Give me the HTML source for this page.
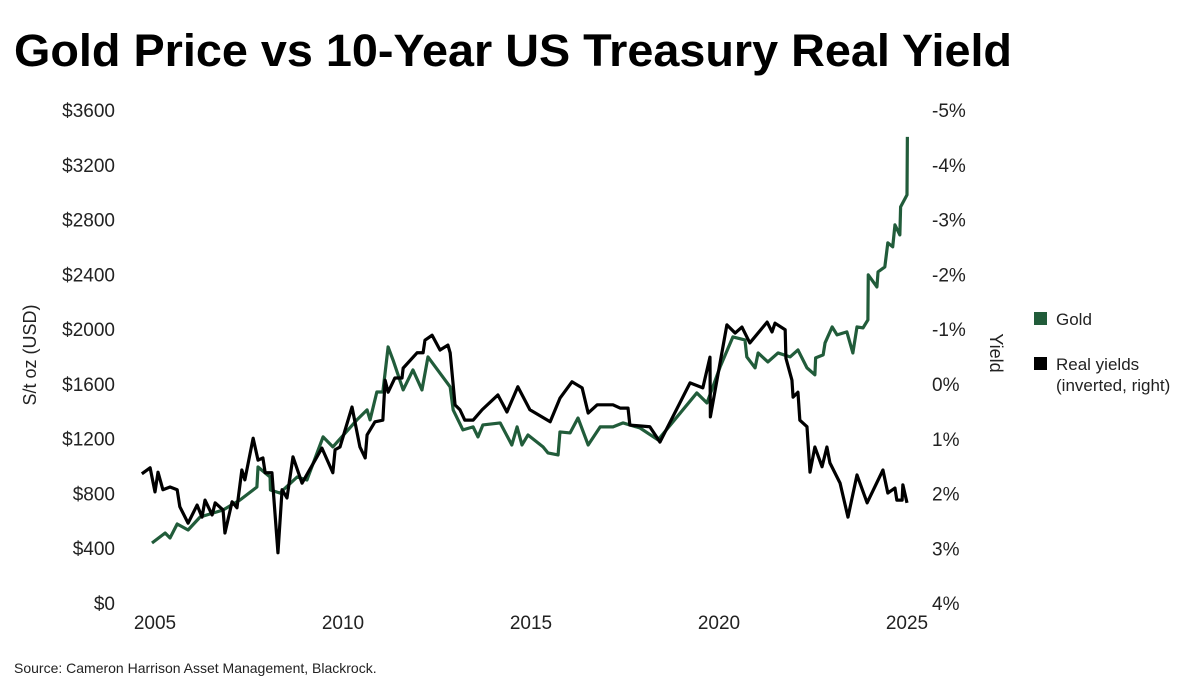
<!DOCTYPE html>
<html><head><meta charset="utf-8"><style>
body{margin:0;background:#fff;width:1194px;height:687px;overflow:hidden;font-family:"Liberation Sans",sans-serif}
</style></head><body>
<svg width="1194" height="687" viewBox="0 0 1194 687">
<text x="14" y="66" font-size="45" font-weight="bold" fill="#000" textLength="998" lengthAdjust="spacingAndGlyphs">Gold Price vs 10-Year US Treasury Real Yield</text>
<g id="leftAxis"></g>
<g id="rightAxis"></g>
<g id="xAxis"></g>
<text transform="translate(36,355) rotate(-90)" text-anchor="middle" font-size="18" fill="#222">S/t oz (USD)</text>
<text transform="translate(990,353) rotate(90)" text-anchor="middle" font-size="18" fill="#222">Yield</text>
<g id="series"></g>
<g>
<rect x="1034" y="312" width="13" height="13" fill="#215c3a"/>
<text x="1056" y="325" font-size="17" fill="#222">Gold</text>
<rect x="1034" y="357" width="13" height="13" fill="#000"/>
<text x="1056" y="370" font-size="17" fill="#222">Real yields</text>
<text x="1056" y="391" font-size="17" fill="#222">(inverted, right)</text>
</g>
<text x="14" y="673" font-size="14" fill="#222">Source: Cameron Harrison Asset Management, Blackrock.</text>
</svg>
<script>
const leftTicks=[0,400,800,1200,1600,2000,2400,2800,3200,3600];
const rightTicks=[-5,-4,-3,-2,-1,0,1,2,3,4];
const rightTickLabels=["-5%","-4%","-3%","-2%","-1%","0%","1%","2%","3%","4%"];
const xTicks=[2005,2010,2015,2020,2025];
const goldYears=[2004.92,2005.27,2005.40,2005.59,2005.88,2006.20,2006.81,2007.26,2007.71,2007.74,2008.06,2008.07,2008.32,2008.78,2009.04,2009.47,2009.73,2010.37,2010.64,2010.72,2010.90,2011.06,2011.20,2011.33,2011.60,2011.86,2012.10,2012.26,2012.85,2012.93,2013.19,2013.46,2013.59,2013.72,2014.18,2014.49,2014.63,2014.76,2014.92,2015.32,2015.45,2015.72,2015.77,2016.04,2016.25,2016.52,2016.84,2017.18,2017.45,2017.90,2018.38,2019.41,2019.68,2020.03,2020.37,2020.69,2020.74,2020.96,2021.04,2021.30,2021.57,2021.89,2022.10,2022.34,2022.55,2022.57,2022.77,2022.82,2023.01,2023.14,2023.40,2023.56,2023.67,2023.83,2023.96,2023.97,2024.20,2024.23,2024.41,2024.49,2024.62,2024.68,2024.81,2024.83,2025.00,2025.01];
const goldPrices=[438,511,475,577,533,628,679,752,847,993,920,825,803,920,898,1213,1140,1337,1410,1337,1541,1541,1870,1775,1556,1702,1556,1797,1578,1410,1264,1286,1213,1300,1315,1154,1286,1154,1227,1140,1096,1081,1249,1242,1351,1154,1286,1286,1315,1278,1191,1534,1461,1724,1943,1921,1797,1717,1826,1760,1826,1797,1848,1717,1666,1790,1812,1899,2016,1958,1980,1826,2016,2009,2067,2396,2308,2418,2454,2630,2601,2761,2688,2893,2980,3404];
const yieldYears=[2004.65,2004.87,2005.00,2005.08,2005.21,2005.40,2005.59,2005.66,2005.88,2006.12,2006.25,2006.33,2006.52,2006.60,2006.81,2006.86,2007.05,2007.18,2007.31,2007.39,2007.61,2007.74,2007.87,2007.93,2008.11,2008.27,2008.38,2008.51,2008.67,2008.91,2009.44,2009.73,2009.79,2009.92,2010.24,2010.45,2010.59,2010.64,2010.85,2011.06,2011.12,2011.20,2011.38,2011.57,2011.60,2011.97,2012.13,2012.18,2012.37,2012.58,2012.79,2012.85,2012.98,2013.11,2013.24,2013.46,2013.70,2014.12,2014.36,2014.65,2014.97,2015.51,2015.77,2016.09,2016.36,2016.52,2016.76,2017.18,2017.37,2017.58,2017.63,2018.16,2018.43,2019.23,2019.57,2019.76,2019.77,2020.21,2020.43,2020.61,2020.82,2021.28,2021.41,2021.49,2021.76,2021.78,2021.94,2021.97,2022.10,2022.15,2022.34,2022.42,2022.55,2022.74,2022.87,2022.95,2023.22,2023.43,2023.67,2023.94,2024.36,2024.49,2024.68,2024.73,2024.87,2024.89,2025.00];
const yieldValues=[1.64,1.53,1.97,1.61,1.93,1.88,1.93,2.24,2.54,2.21,2.43,2.12,2.39,2.17,2.30,2.72,2.15,2.26,1.57,1.75,0.99,1.39,1.35,1.62,1.62,3.08,1.93,2.08,1.33,1.81,1.17,1.62,1.20,1.15,0.42,1.15,1.35,0.93,0.69,0.66,-0.07,0.15,-0.11,-0.11,-0.29,-0.57,-0.57,-0.80,-0.89,-0.62,-0.71,-0.57,0.38,0.47,0.66,0.66,0.47,0.20,0.51,0.05,0.47,0.69,0.26,-0.04,0.07,0.53,0.38,0.38,0.44,0.44,0.75,0.78,1.06,-0.02,0.07,-0.49,0.60,-1.08,-0.93,-1.04,-0.75,-1.13,-0.95,-1.11,-0.99,-0.47,-0.07,0.24,0.15,0.66,0.78,1.61,1.15,1.51,1.15,1.44,1.81,2.43,1.66,2.17,1.57,1.99,1.90,2.12,2.12,1.84,2.17];

const NS="http://www.w3.org/2000/svg";
const xS=y=>155+(y-2005)*37.6;
const yL=v=>603-v*(493/3600);
const yR=v=>384+v*(493/9);
function mk(tag,attrs,parent,txt){const e=document.createElementNS(NS,tag);for(const k in attrs)e.setAttribute(k,attrs[k]);if(txt!==undefined)e.textContent=txt;parent.appendChild(e);return e;}
const la=document.getElementById('leftAxis');
leftTicks.forEach(v=>{const t=mk('text',{x:115,y:yL(v)+7,'text-anchor':'end','font-size':19,fill:'#222'},la,'$'+v);

});
const ra=document.getElementById('rightAxis');
rightTicks.forEach((v,i)=>{const t=mk('text',{x:932,y:yR(v)+7,'font-size':19,fill:'#222'},ra,rightTickLabels[i]);

});
const xa=document.getElementById('xAxis');
xTicks.forEach(v=>{const t=mk('text',{x:xS(v),y:629,'text-anchor':'middle','font-size':19,fill:'#222'},xa,String(v));

});
const s=document.getElementById('series');
const gp=mk('polyline',{points:goldYears.map((y,i)=>xS(y)+','+yL(goldPrices[i])).join(' '),fill:'none',stroke:'#215c3a','stroke-width':3.2,'stroke-linejoin':'round'},s);


const yp=mk('polyline',{points:yieldYears.map((y,i)=>xS(y)+','+yR(yieldValues[i])).join(' '),fill:'none',stroke:'#000','stroke-width':3.2,'stroke-linejoin':'round'},s);


</script>
</body></html>
